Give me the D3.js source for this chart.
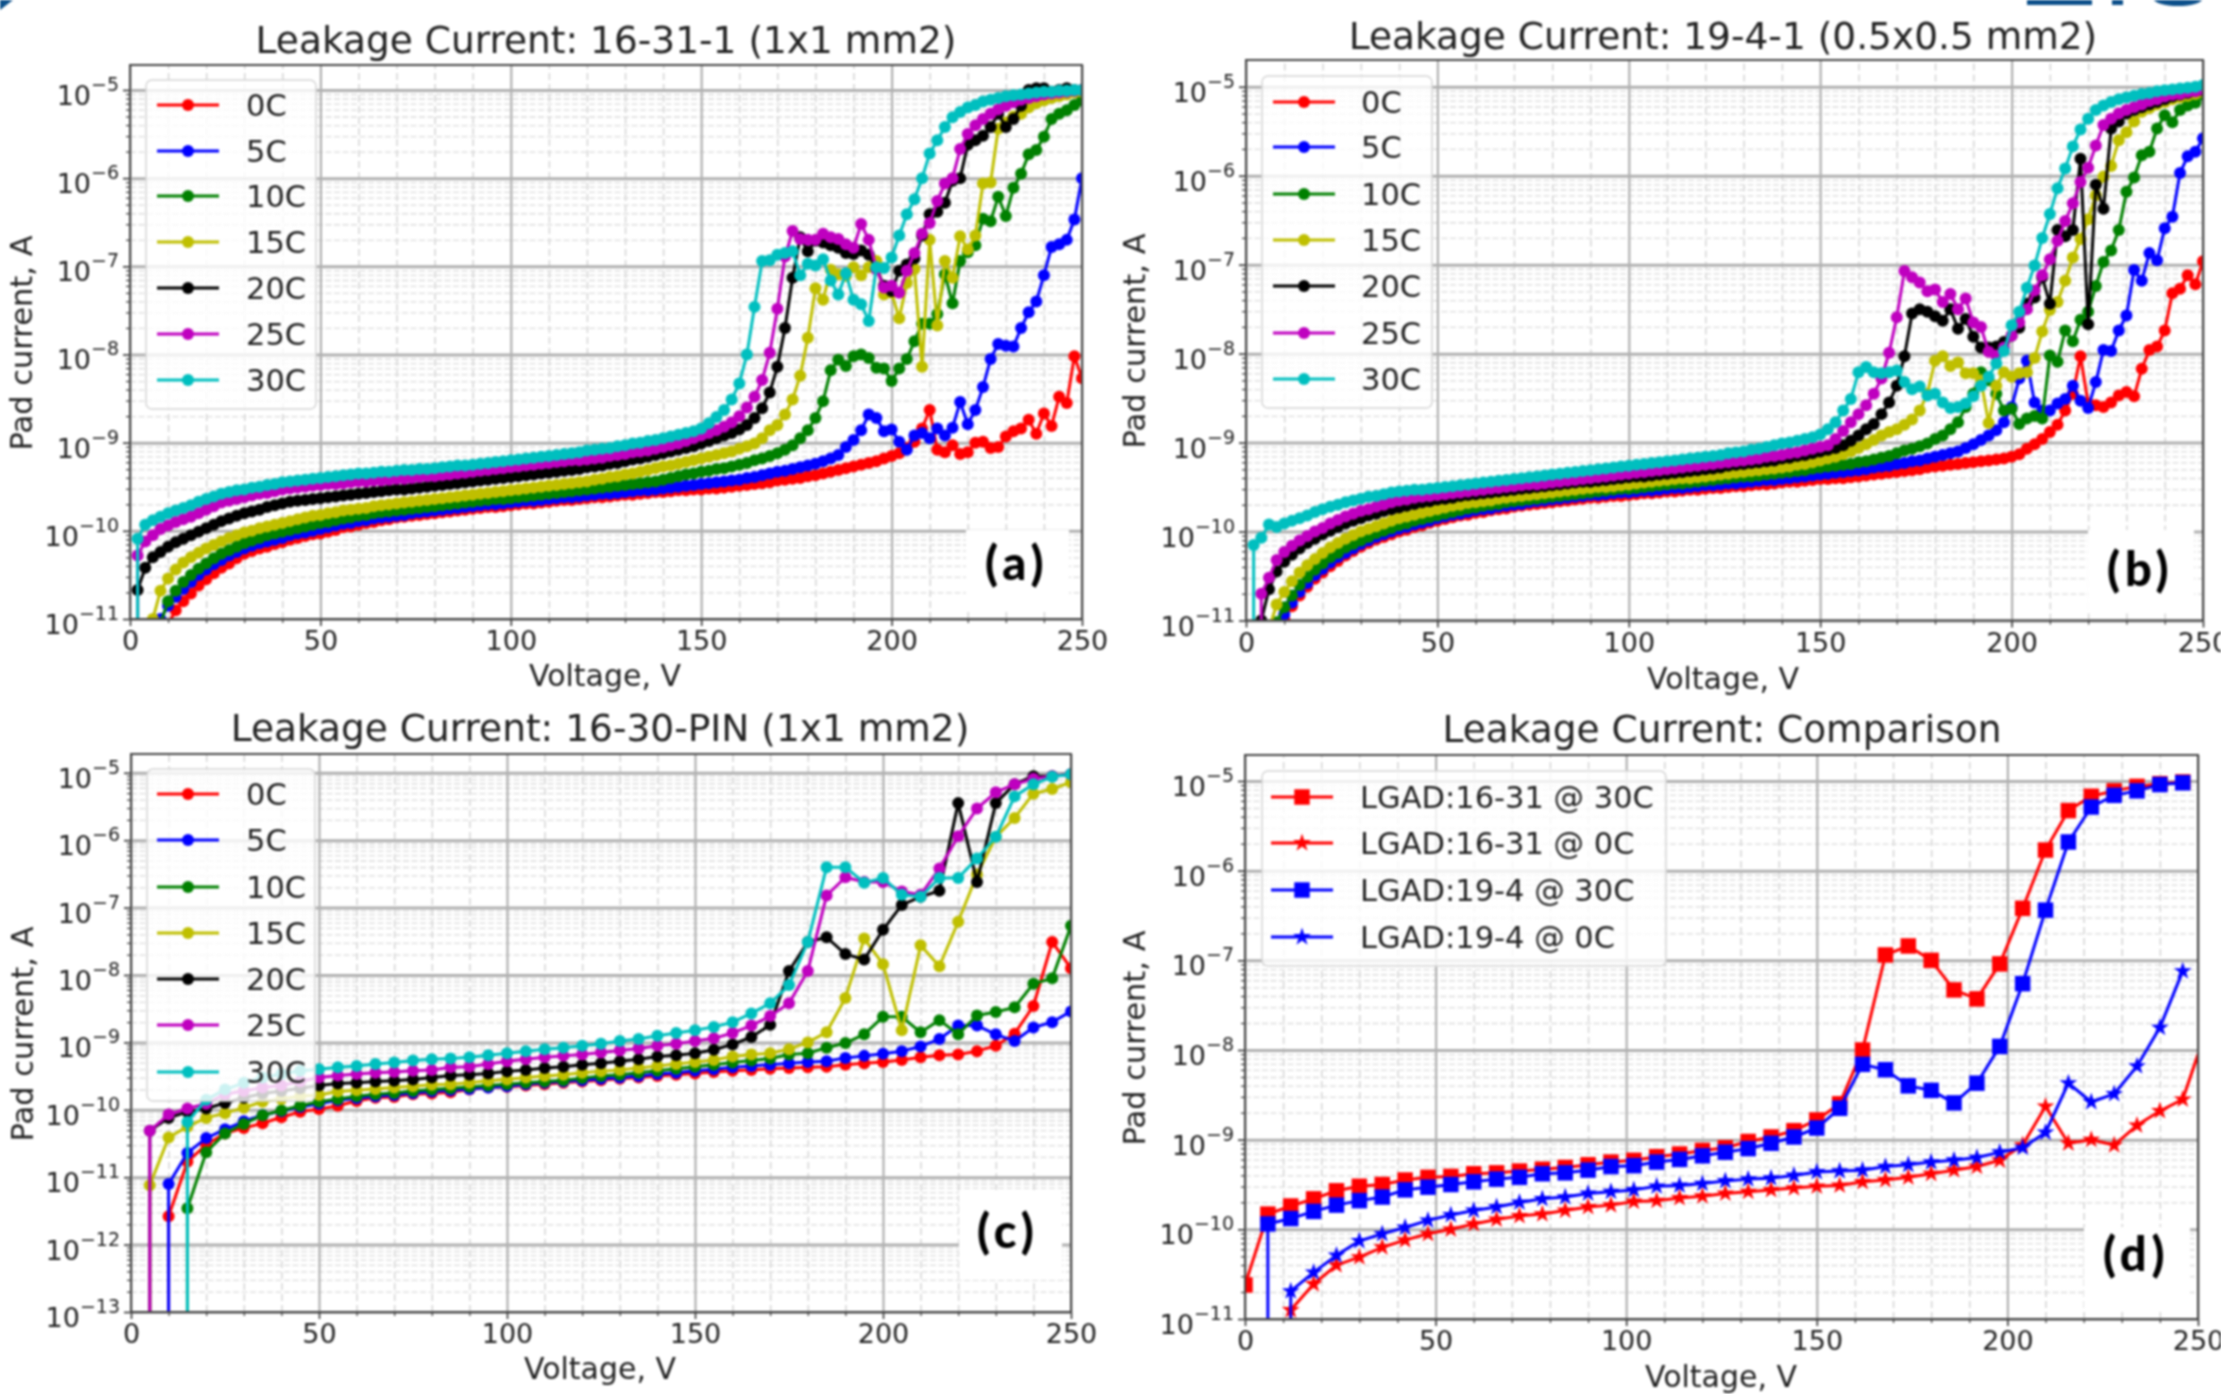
<!DOCTYPE html>
<html>
<head>
<meta charset="utf-8">
<script src="https://cdn.jsdelivr.net/npm/d3@7"></script>
<style>
  html, body { margin: 0; padding: 0; background: #fff; }
  svg { display: block; filter: blur(0.8px); }
  text { font-family: "DejaVu Sans", sans-serif; fill: #222; }
  .tag { font-family: Lato, sans-serif; font-weight: 900; fill: #000; letter-spacing: 5px; }
</style>
</head>
<body>
<div id="chart"></div>
<script>
// values are log10 of the pad current in A
// null = no point drawn (current not positive at that voltage)

// voltage steps of each panel
const voltsA = d3.range(2, 251, 2);
const voltsC = d3.range(5, 251, 5);
const voltsD = d3.range(0, 253, 6);

// panel (a) 16-31-1
const a0C = [null,null,null,-11.25,-11.06,-10.90,-10.80,-10.71,-10.62,-10.55,-10.48,-10.42,-10.37,-10.31,-10.26,-10.23,-10.20,-10.18,-10.15,-10.13,-10.10,-10.08,-10.06,-10.04,-10.03,
  -10.01,-9.99,-9.96,-9.95,-9.93,-9.91,-9.90,-9.88,-9.87,-9.85,-9.84,-9.83,-9.82,-9.81,-9.80,-9.79,-9.78,-9.77,-9.76,-9.75,-9.74,-9.73,-9.73,-9.72,-9.71,
  -9.70,-9.69,-9.69,-9.68,-9.67,-9.66,-9.65,-9.65,-9.64,-9.63,-9.62,-9.62,-9.61,-9.60,-9.59,-9.59,-9.58,-9.57,-9.56,-9.56,-9.55,-9.54,-9.54,-9.53,-9.53,
  -9.52,-9.52,-9.51,-9.50,-9.49,-9.48,-9.47,-9.46,-9.45,-9.43,-9.42,-9.41,-9.40,-9.38,-9.37,-9.35,-9.33,-9.31,-9.29,-9.27,-9.25,-9.23,-9.21,-9.18,-9.15,
  -9.12,-9.06,-8.99,-8.84,-8.63,-9.08,-9.11,-9.03,-9.13,-9.11,-9.00,-8.99,-9.06,-9.05,-8.93,-8.87,-8.84,-8.74,-8.90,-8.67,-8.81,-8.48,-8.55,-8.02,-8.27];
const a5C = [null,null,null,-11.00,-10.85,-10.75,-10.66,-10.58,-10.50,-10.44,-10.38,-10.33,-10.28,-10.24,-10.20,-10.17,-10.14,-10.12,-10.10,-10.08,-10.05,-10.03,-10.02,-10.00,-9.98,
  -9.96,-9.94,-9.92,-9.91,-9.89,-9.88,-9.86,-9.85,-9.84,-9.83,-9.82,-9.80,-9.79,-9.78,-9.77,-9.76,-9.75,-9.74,-9.73,-9.72,-9.71,-9.70,-9.70,-9.69,-9.68,
  -9.67,-9.66,-9.66,-9.65,-9.64,-9.63,-9.62,-9.62,-9.61,-9.60,-9.59,-9.58,-9.58,-9.57,-9.56,-9.55,-9.54,-9.54,-9.53,-9.52,-9.51,-9.50,-9.49,-9.48,-9.47,
  -9.46,-9.45,-9.44,-9.43,-9.42,-9.40,-9.39,-9.37,-9.35,-9.33,-9.32,-9.30,-9.28,-9.26,-9.24,-9.21,-9.18,-9.14,-9.05,-8.97,-8.86,-8.68,-8.72,-8.87,-8.85,
  -8.99,-9.08,-8.92,-8.89,-8.95,-8.84,-8.92,-8.83,-8.54,-8.79,-8.63,-8.37,-8.05,-7.88,-7.90,-7.91,-7.70,-7.52,-7.40,-7.10,-6.78,-6.75,-6.70,-6.47,-6.00];
const a10C = [null,null,null,-11.05,-10.80,-10.68,-10.58,-10.50,-10.43,-10.37,-10.31,-10.26,-10.22,-10.18,-10.14,-10.11,-10.08,-10.05,-10.03,-10.01,-9.99,-9.97,-9.95,-9.93,-9.91,
  -9.90,-9.88,-9.86,-9.85,-9.83,-9.82,-9.80,-9.79,-9.78,-9.77,-9.76,-9.75,-9.74,-9.73,-9.72,-9.71,-9.70,-9.69,-9.68,-9.67,-9.66,-9.65,-9.64,-9.64,-9.63,
  -9.62,-9.61,-9.60,-9.59,-9.58,-9.57,-9.56,-9.55,-9.54,-9.53,-9.52,-9.51,-9.50,-9.49,-9.48,-9.47,-9.46,-9.45,-9.44,-9.42,-9.40,-9.38,-9.36,-9.35,-9.33,
  -9.32,-9.30,-9.29,-9.27,-9.25,-9.23,-9.20,-9.18,-9.15,-9.12,-9.08,-9.03,-8.95,-8.86,-8.72,-8.53,-8.18,-8.06,-8.13,-8.02,-8.00,-8.04,-8.15,-8.16,-8.30,
  -8.16,-8.05,-7.85,-7.65,-7.65,-7.54,-7.09,-7.42,-6.94,-6.84,-6.76,-6.46,-6.49,-6.21,-6.43,-6.11,-5.95,-5.73,-5.68,-5.53,-5.33,-5.27,-5.23,-5.17,-5.12];
const a15C = [null,null,-11.00,-10.68,-10.54,-10.44,-10.36,-10.30,-10.25,-10.20,-10.16,-10.12,-10.08,-10.05,-10.02,-10.00,-9.97,-9.95,-9.93,-9.91,-9.89,-9.87,-9.85,-9.83,-9.82,
  -9.80,-9.79,-9.77,-9.76,-9.75,-9.74,-9.72,-9.71,-9.70,-9.69,-9.68,-9.67,-9.66,-9.65,-9.64,-9.63,-9.62,-9.61,-9.60,-9.59,-9.58,-9.57,-9.56,-9.55,-9.54,
  -9.53,-9.52,-9.51,-9.50,-9.49,-9.48,-9.47,-9.46,-9.45,-9.44,-9.42,-9.41,-9.39,-9.38,-9.36,-9.35,-9.33,-9.31,-9.29,-9.27,-9.26,-9.24,-9.22,-9.20,-9.18,
  -9.16,-9.14,-9.12,-9.10,-9.07,-9.04,-9.01,-8.95,-8.86,-8.80,-8.68,-8.51,-8.24,-7.81,-7.25,-7.38,-7.04,-7.09,-7.11,-7.01,-7.10,-7.01,-6.94,-7.32,-7.30,
  -7.59,-7.19,-7.03,-8.14,-6.70,-7.67,-6.94,-7.13,-6.66,-6.81,-6.65,-6.06,-6.05,-5.44,-5.37,-5.30,-5.27,-5.20,-5.15,-5.12,-5.09,-5.07,-5.05,-5.03,-5.02];
const a20C = [-10.67,-10.42,-10.30,-10.24,-10.18,-10.13,-10.09,-10.05,-10.01,-9.97,-9.93,-9.89,-9.86,-9.83,-9.80,-9.78,-9.76,-9.73,-9.71,-9.69,-9.67,-9.66,-9.65,-9.64,-9.63,
  -9.62,-9.61,-9.60,-9.59,-9.58,-9.57,-9.56,-9.55,-9.54,-9.53,-9.53,-9.52,-9.51,-9.50,-9.49,-9.48,-9.47,-9.46,-9.45,-9.44,-9.43,-9.42,-9.41,-9.40,-9.39,
  -9.38,-9.37,-9.36,-9.35,-9.34,-9.33,-9.32,-9.31,-9.30,-9.28,-9.27,-9.26,-9.24,-9.23,-9.21,-9.19,-9.18,-9.16,-9.14,-9.12,-9.10,-9.08,-9.06,-9.04,-9.01,
  -8.98,-8.95,-8.92,-8.89,-8.85,-8.80,-8.72,-8.61,-8.43,-8.14,-7.70,-7.13,-6.67,-6.83,-6.71,-6.73,-6.76,-6.79,-6.85,-6.86,-6.82,-6.87,-7.03,-7.22,-7.28,
  -7.05,-6.98,-6.91,-6.65,-6.41,-6.38,-6.28,-6.03,-6.00,-5.62,-5.57,-5.52,-5.42,-5.27,-5.42,-5.33,-5.18,-5.00,-4.98,-4.98,-5.02,-5.00,-4.98,-5.00,-5.00];
const a25C = [-10.28,-10.12,-10.05,-9.98,-9.94,-9.90,-9.87,-9.84,-9.80,-9.76,-9.72,-9.68,-9.66,-9.64,-9.62,-9.60,-9.58,-9.57,-9.55,-9.53,-9.52,-9.51,-9.50,-9.49,-9.48,
  -9.47,-9.47,-9.46,-9.45,-9.44,-9.44,-9.43,-9.43,-9.42,-9.41,-9.41,-9.40,-9.39,-9.38,-9.38,-9.37,-9.36,-9.35,-9.34,-9.33,-9.32,-9.31,-9.30,-9.29,-9.28,
  -9.27,-9.26,-9.25,-9.24,-9.23,-9.22,-9.21,-9.20,-9.20,-9.19,-9.18,-9.17,-9.15,-9.14,-9.13,-9.11,-9.10,-9.09,-9.07,-9.05,-9.03,-9.01,-8.98,-8.95,-8.92,
  -8.89,-8.86,-8.82,-8.77,-8.70,-8.60,-8.48,-8.29,-7.98,-7.48,-6.89,-6.60,-6.69,-6.70,-6.70,-6.63,-6.67,-6.69,-6.75,-6.79,-6.52,-6.70,-7.03,-7.24,-7.22,
  -7.30,-7.05,-6.85,-6.63,-6.51,-6.26,-6.06,-6.00,-5.67,-5.50,-5.40,-5.33,-5.27,-5.22,-5.18,-5.14,-5.11,-5.09,-5.07,-5.05,-5.04,-5.03,-5.02,-5.01,-5.00];
const a30C = [-10.09,-9.93,-9.88,-9.84,-9.80,-9.77,-9.74,-9.71,-9.67,-9.64,-9.61,-9.58,-9.56,-9.54,-9.53,-9.51,-9.50,-9.48,-9.47,-9.45,-9.44,-9.43,-9.42,-9.41,-9.40,
  -9.39,-9.38,-9.37,-9.36,-9.35,-9.35,-9.34,-9.33,-9.33,-9.32,-9.31,-9.31,-9.30,-9.30,-9.29,-9.28,-9.27,-9.26,-9.26,-9.25,-9.24,-9.23,-9.22,-9.21,-9.20,
  -9.19,-9.18,-9.17,-9.16,-9.15,-9.14,-9.13,-9.12,-9.11,-9.09,-9.08,-9.07,-9.06,-9.04,-9.03,-9.01,-9.00,-8.98,-8.97,-8.95,-8.93,-8.91,-8.89,-8.87,-8.84,
  -8.78,-8.71,-8.63,-8.51,-8.33,-8.00,-7.46,-6.94,-6.93,-6.87,-6.85,-6.83,-7.10,-6.97,-6.99,-6.92,-7.16,-7.32,-7.08,-7.38,-7.43,-7.62,-7.01,-7.02,-6.90,
  -6.65,-6.41,-6.24,-6.00,-5.72,-5.57,-5.42,-5.31,-5.25,-5.20,-5.17,-5.13,-5.11,-5.09,-5.07,-5.06,-5.05,-5.04,-5.03,-5.02,-5.02,-5.01,-5.01,-5.00,-5.00];

// panel (b) 19-4-1
const b0C = [null,null,null,-11.20,-10.98,-10.84,-10.72,-10.62,-10.53,-10.46,-10.39,-10.33,-10.27,-10.22,-10.17,-10.13,-10.09,-10.06,-10.03,-10.00,-9.98,-9.95,-9.93,-9.90,-9.88,
  -9.86,-9.84,-9.82,-9.81,-9.79,-9.78,-9.76,-9.75,-9.74,-9.72,-9.71,-9.70,-9.69,-9.68,-9.67,-9.66,-9.65,-9.64,-9.63,-9.62,-9.62,-9.61,-9.60,-9.60,-9.59,
  -9.58,-9.57,-9.57,-9.56,-9.55,-9.55,-9.54,-9.53,-9.53,-9.52,-9.51,-9.51,-9.50,-9.49,-9.49,-9.48,-9.47,-9.47,-9.46,-9.45,-9.44,-9.44,-9.43,-9.42,-9.41,
  -9.41,-9.40,-9.40,-9.39,-9.38,-9.37,-9.36,-9.35,-9.34,-9.33,-9.32,-9.31,-9.30,-9.28,-9.27,-9.26,-9.25,-9.24,-9.23,-9.22,-9.21,-9.20,-9.19,-9.18,-9.16,
  -9.13,-9.07,-9.02,-8.96,-8.88,-8.80,-8.64,-8.45,-8.03,-8.56,-8.58,-8.60,-8.55,-8.47,-8.43,-8.48,-8.17,-7.96,-7.92,-7.74,-7.32,-7.27,-7.12,-7.22,-6.96];
const b5C = [null,null,null,-11.15,-10.93,-10.80,-10.68,-10.58,-10.49,-10.42,-10.35,-10.29,-10.24,-10.19,-10.14,-10.10,-10.06,-10.03,-10.00,-9.97,-9.95,-9.92,-9.90,-9.88,-9.85,
  -9.83,-9.81,-9.80,-9.78,-9.76,-9.75,-9.74,-9.72,-9.71,-9.70,-9.69,-9.67,-9.66,-9.65,-9.64,-9.63,-9.62,-9.61,-9.60,-9.59,-9.59,-9.58,-9.57,-9.56,-9.56,
  -9.55,-9.54,-9.54,-9.53,-9.52,-9.51,-9.51,-9.50,-9.49,-9.48,-9.48,-9.47,-9.46,-9.46,-9.45,-9.44,-9.43,-9.42,-9.42,-9.41,-9.40,-9.39,-9.38,-9.37,-9.36,
  -9.35,-9.34,-9.33,-9.32,-9.31,-9.30,-9.28,-9.27,-9.26,-9.24,-9.23,-9.21,-9.20,-9.18,-9.16,-9.14,-9.12,-9.10,-9.06,-9.02,-8.97,-8.92,-8.86,-8.77,-8.60,
  -8.28,-8.08,-8.55,-8.64,-8.64,-8.56,-8.51,-8.36,-8.53,-8.61,-8.32,-7.96,-7.97,-7.74,-7.57,-7.06,-7.18,-6.87,-6.95,-6.59,-6.46,-5.97,-5.78,-5.73,-5.58];
const b10C = [null,null,null,-11.02,-10.85,-10.72,-10.60,-10.51,-10.43,-10.36,-10.29,-10.24,-10.18,-10.14,-10.10,-10.06,-10.02,-9.99,-9.96,-9.93,-9.91,-9.88,-9.86,-9.84,-9.82,
  -9.80,-9.78,-9.76,-9.74,-9.73,-9.71,-9.70,-9.69,-9.67,-9.66,-9.65,-9.64,-9.63,-9.62,-9.61,-9.60,-9.59,-9.58,-9.57,-9.56,-9.55,-9.54,-9.53,-9.52,-9.52,
  -9.51,-9.50,-9.49,-9.48,-9.47,-9.46,-9.46,-9.45,-9.44,-9.43,-9.42,-9.41,-9.40,-9.39,-9.38,-9.38,-9.37,-9.36,-9.35,-9.34,-9.33,-9.32,-9.31,-9.29,-9.28,
  -9.27,-9.26,-9.25,-9.24,-9.22,-9.21,-9.19,-9.17,-9.15,-9.12,-9.09,-9.07,-9.04,-9.01,-8.96,-8.92,-8.85,-8.77,-8.60,-8.45,-8.21,-8.30,-8.45,-8.64,-8.62,
  -8.79,-8.73,-8.70,-8.73,-8.02,-8.09,-7.74,-7.86,-7.62,-7.53,-7.24,-6.97,-6.84,-6.61,-6.18,-6.02,-5.77,-5.73,-5.47,-5.32,-5.40,-5.26,-5.21,-5.18,-5.09];
const b15C = [null,null,-11.10,-10.82,-10.68,-10.56,-10.46,-10.38,-10.31,-10.24,-10.18,-10.13,-10.08,-10.04,-10.00,-9.97,-9.94,-9.91,-9.88,-9.85,-9.83,-9.81,-9.79,-9.77,-9.75,
  -9.73,-9.71,-9.70,-9.68,-9.67,-9.66,-9.65,-9.63,-9.62,-9.61,-9.60,-9.59,-9.58,-9.57,-9.56,-9.55,-9.54,-9.53,-9.52,-9.51,-9.50,-9.50,-9.49,-9.48,-9.47,
  -9.46,-9.45,-9.44,-9.43,-9.42,-9.41,-9.40,-9.40,-9.39,-9.38,-9.37,-9.36,-9.35,-9.34,-9.33,-9.32,-9.31,-9.30,-9.29,-9.28,-9.27,-9.25,-9.24,-9.22,-9.20,
  -9.18,-9.16,-9.13,-9.10,-9.06,-9.02,-8.97,-8.92,-8.88,-8.85,-8.80,-8.74,-8.64,-8.45,-8.08,-8.03,-8.14,-8.10,-8.22,-8.22,-8.30,-8.78,-8.36,-8.21,-8.26,
  -8.22,-8.21,-8.05,-7.75,-7.51,-7.42,-7.18,-6.92,-6.71,-6.49,-6.22,-6.01,-5.89,-5.60,-5.51,-5.39,-5.28,-5.24,-5.20,-5.17,-5.14,-5.12,-5.10,-5.08,-5.06];
const b20C = [null,-11.00,-10.65,-10.45,-10.34,-10.26,-10.19,-10.13,-10.08,-10.03,-9.99,-9.95,-9.91,-9.88,-9.85,-9.82,-9.80,-9.77,-9.75,-9.73,-9.71,-9.69,-9.67,-9.66,-9.64,
  -9.63,-9.62,-9.60,-9.59,-9.58,-9.57,-9.56,-9.55,-9.54,-9.53,-9.52,-9.51,-9.50,-9.49,-9.48,-9.47,-9.46,-9.45,-9.44,-9.44,-9.43,-9.42,-9.41,-9.40,-9.39,
  -9.38,-9.38,-9.37,-9.36,-9.35,-9.34,-9.33,-9.32,-9.31,-9.30,-9.29,-9.28,-9.26,-9.25,-9.24,-9.23,-9.22,-9.21,-9.20,-9.18,-9.17,-9.15,-9.14,-9.12,-9.10,
  -9.08,-9.06,-9.03,-8.98,-8.92,-8.85,-8.79,-8.68,-8.55,-8.36,-8.03,-7.55,-7.50,-7.53,-7.58,-7.63,-7.50,-7.72,-7.61,-7.81,-7.93,-7.93,-7.92,-7.87,-7.80,
  -7.71,-7.44,-7.37,-7.14,-7.44,-6.61,-6.68,-6.61,-5.81,-7.67,-6.10,-6.37,-5.47,-5.39,-5.30,-5.26,-5.23,-5.20,-5.17,-5.14,-5.11,-5.09,-5.07,-5.05,-5.04];
const b25C = [null,-10.70,-10.52,-10.32,-10.23,-10.16,-10.10,-10.05,-10.00,-9.96,-9.91,-9.87,-9.83,-9.80,-9.77,-9.75,-9.72,-9.70,-9.67,-9.65,-9.64,-9.62,-9.61,-9.60,-9.59,
  -9.58,-9.57,-9.56,-9.55,-9.54,-9.53,-9.52,-9.51,-9.50,-9.49,-9.48,-9.47,-9.47,-9.46,-9.45,-9.44,-9.43,-9.42,-9.41,-9.40,-9.39,-9.38,-9.37,-9.36,-9.35,
  -9.34,-9.33,-9.32,-9.31,-9.30,-9.29,-9.28,-9.27,-9.26,-9.25,-9.24,-9.23,-9.22,-9.21,-9.20,-9.19,-9.18,-9.16,-9.15,-9.14,-9.12,-9.11,-9.09,-9.07,-9.05,
  -9.03,-8.96,-8.87,-8.77,-8.68,-8.58,-8.45,-8.28,-7.99,-7.59,-7.07,-7.14,-7.20,-7.30,-7.28,-7.42,-7.33,-7.50,-7.38,-7.65,-7.70,-7.98,-8.02,-7.93,-7.80,
  -7.65,-7.50,-7.29,-7.12,-6.94,-6.73,-6.51,-6.31,-6.07,-5.91,-5.66,-5.43,-5.36,-5.30,-5.26,-5.23,-5.20,-5.16,-5.14,-5.11,-5.09,-5.08,-5.06,-5.05,-5.03];
const b30C = [-10.15,-10.07,-9.92,-9.95,-9.91,-9.88,-9.85,-9.82,-9.78,-9.75,-9.72,-9.70,-9.67,-9.65,-9.63,-9.61,-9.60,-9.58,-9.56,-9.55,-9.54,-9.53,-9.53,-9.52,-9.51,
  -9.50,-9.49,-9.48,-9.47,-9.46,-9.45,-9.44,-9.43,-9.42,-9.41,-9.40,-9.39,-9.38,-9.37,-9.36,-9.35,-9.34,-9.33,-9.32,-9.31,-9.30,-9.29,-9.28,-9.27,-9.26,
  -9.25,-9.24,-9.23,-9.22,-9.21,-9.20,-9.19,-9.18,-9.17,-9.16,-9.15,-9.14,-9.12,-9.11,-9.10,-9.08,-9.07,-9.05,-9.03,-9.01,-9.00,-8.98,-8.96,-8.94,-8.91,
  -8.85,-8.77,-8.64,-8.51,-8.21,-8.15,-8.21,-8.22,-8.21,-8.19,-8.32,-8.40,-8.37,-8.47,-8.45,-8.55,-8.61,-8.60,-8.56,-8.48,-8.36,-8.26,-8.11,-7.97,-7.68,
  -7.53,-7.26,-7.01,-6.70,-6.43,-6.14,-5.92,-5.67,-5.48,-5.36,-5.26,-5.21,-5.17,-5.14,-5.12,-5.10,-5.08,-5.07,-5.05,-5.04,-5.03,-5.02,-5.01,-5.00,-4.98];

// panel (c) 16-30-PIN
const c0C = [null,-11.58,-10.77,-10.52,-10.35,-10.27,-10.20,-10.11,-10.03,-9.99,-9.94,-9.87,-9.82,-9.81,-9.77,-9.76,-9.74,-9.70,-9.67,-9.66,-9.64,-9.62,-9.60,-9.58,-9.56,
  -9.54,-9.52,-9.50,-9.48,-9.46,-9.44,-9.42,-9.41,-9.39,-9.38,-9.37,-9.36,-9.33,-9.31,-9.29,-9.26,-9.22,-9.19,-9.18,-9.13,-9.05,-8.87,-8.46,-7.51,-7.90];
const c5C = [null,-11.10,-10.64,-10.42,-10.29,-10.17,-10.08,-10.02,-9.96,-9.91,-9.86,-9.83,-9.80,-9.78,-9.75,-9.73,-9.71,-9.69,-9.67,-9.65,-9.62,-9.60,-9.58,-9.56,-9.54,
  -9.52,-9.50,-9.47,-9.45,-9.42,-9.40,-9.37,-9.35,-9.33,-9.31,-9.29,-9.28,-9.23,-9.20,-9.17,-9.13,-9.06,-8.95,-8.75,-8.75,-8.88,-8.98,-8.78,-8.70,-8.54];
const c10C = [null,null,-11.46,-10.63,-10.35,-10.21,-10.08,-10.01,-9.94,-9.88,-9.84,-9.80,-9.77,-9.75,-9.72,-9.70,-9.68,-9.66,-9.64,-9.62,-9.60,-9.58,-9.56,-9.53,-9.50,
  -9.48,-9.45,-9.42,-9.39,-9.36,-9.33,-9.30,-9.27,-9.24,-9.18,-9.16,-9.08,-9.01,-8.88,-8.62,-8.62,-8.85,-8.67,-8.88,-8.60,-8.55,-8.48,-8.13,-8.05,-7.27];
const c15C = [-11.12,-10.41,-10.25,-10.12,-10.05,-9.97,-9.88,-9.84,-9.80,-9.78,-9.73,-9.71,-9.69,-9.67,-9.65,-9.63,-9.62,-9.60,-9.57,-9.55,-9.52,-9.50,-9.48,-9.45,-9.43,
  -9.41,-9.38,-9.35,-9.32,-9.29,-9.26,-9.21,-9.18,-9.16,-9.10,-9.00,-8.85,-8.34,-7.46,-7.84,-8.82,-7.56,-7.87,-7.21,-6.51,-5.95,-5.67,-5.31,-5.24,-5.14];
const c20C = [-10.31,-10.12,-10.03,-9.98,-9.90,-9.82,-9.76,-9.72,-9.68,-9.64,-9.61,-9.60,-9.58,-9.57,-9.55,-9.52,-9.49,-9.48,-9.46,-9.43,-9.41,-9.38,-9.36,-9.33,-9.31,
  -9.28,-9.25,-9.21,-9.19,-9.16,-9.11,-9.03,-8.92,-8.74,-7.94,-7.51,-7.44,-7.69,-7.77,-7.33,-6.96,-6.84,-6.75,-5.45,-6.62,-5.45,-5.17,-5.05,-5.05,-5.02];
const c25C = [-10.31,-10.07,-9.98,-9.91,-9.77,-9.72,-9.67,-9.64,-9.58,-9.52,-9.49,-9.47,-9.45,-9.44,-9.42,-9.41,-9.37,-9.36,-9.32,-9.28,-9.25,-9.22,-9.20,-9.18,-9.15,
  -9.12,-9.09,-9.05,-9.02,-8.98,-8.94,-8.86,-8.75,-8.61,-8.42,-7.94,-6.82,-6.55,-6.62,-6.62,-6.76,-6.81,-6.42,-5.94,-5.53,-5.29,-5.17,-5.09,-5.05,-5.02];
const c30C = [null,null,-10.18,-9.85,-9.70,-9.60,-9.52,-9.47,-9.42,-9.40,-9.37,-9.35,-9.32,-9.30,-9.27,-9.25,-9.24,-9.22,-9.19,-9.16,-9.13,-9.10,-9.08,-9.05,-9.02,
  -8.98,-8.95,-8.90,-8.86,-8.82,-8.77,-8.70,-8.57,-8.42,-8.15,-7.51,-6.40,-6.40,-6.63,-6.56,-6.81,-6.84,-6.56,-6.56,-6.27,-5.95,-5.35,-5.17,-5.06,-5.02];

// panel (d) comparison
const d1631at30C = [-10.62,-9.83,-9.74,-9.66,-9.57,-9.52,-9.50,-9.45,-9.42,-9.41,-9.38,-9.37,-9.35,-9.33,-9.31,-9.28,-9.25,-9.23,-9.19,-9.16,-9.12,-9.09,-9.02,-8.97,-8.90,-8.78,-8.60,-8.00,-6.94,-6.84,-7.00,-7.33,-7.43,-7.04,-6.42,-5.77,-5.33,-5.17,-5.11,-5.06,-5.03,-5.01];
const d1631at0C = [null,null,-10.90,-10.61,-10.40,-10.31,-10.20,-10.12,-10.05,-10.00,-9.94,-9.89,-9.85,-9.83,-9.79,-9.75,-9.73,-9.69,-9.68,-9.65,-9.63,-9.60,-9.58,-9.56,-9.54,-9.52,-9.51,-9.47,-9.45,-9.42,-9.38,-9.34,-9.30,-9.23,-9.06,-8.63,-9.04,-9.00,-9.06,-8.84,-8.68,-8.55,-7.80];
const d194at30C = [null,-9.94,-9.88,-9.80,-9.73,-9.68,-9.64,-9.56,-9.53,-9.50,-9.47,-9.44,-9.42,-9.38,-9.37,-9.34,-9.30,-9.29,-9.25,-9.22,-9.18,-9.14,-9.10,-9.04,-8.97,-8.87,-8.65,-8.16,-8.22,-8.40,-8.45,-8.59,-8.37,-7.96,-7.26,-6.44,-5.68,-5.29,-5.16,-5.11,-5.04,-5.02];
const d194at0C = [null,null,-10.69,-10.48,-10.29,-10.13,-10.05,-9.98,-9.90,-9.84,-9.79,-9.75,-9.70,-9.66,-9.64,-9.60,-9.58,-9.56,-9.52,-9.51,-9.49,-9.46,-9.44,-9.43,-9.40,-9.36,-9.35,-9.34,-9.30,-9.28,-9.25,-9.23,-9.20,-9.14,-9.09,-8.92,-8.37,-8.58,-8.49,-8.18,-7.75,-7.12];

const tempLabels = ['0C', '5C', '10C', '15C', '20C', '25C', '30C'];
const tempColors = ['#ff0000', '#0000ff', '#008000', '#bfbf00', '#000000', '#bf00bf', '#00bfbf'];
const compareLabels = ['LGAD:16-31 @ 30C', 'LGAD:16-31 @ 0C', 'LGAD:19-4 @ 30C', 'LGAD:19-4 @ 0C'];
const compareColors = ['#ff0000', '#ff0000', '#0000ff', '#0000ff'];
const compareMarks = ['square', 'star', 'square', 'star'];
const xMajor = [0, 50, 100, 150, 200, 250];
const xMinor = d3.range(10, 250, 10).filter(v => v % 50 !== 0);

const W = 2221, H = 1394;
const floorAmps = 1e-14;

const svg = d3.select('#chart').append('svg')
  .attr('width', W).attr('height', H);

// bits of the slide logo cut off by the crop
const logoColor = '#0b4f8a';
svg.append('path').attr('d', 'M0,0 L13,0 L0,10 Z').attr('fill', logoColor);
svg.append('rect').attr('x', 2027).attr('y', 0).attr('width', 65).attr('height', 5).attr('fill', logoColor);
svg.append('rect').attr('x', 2112).attr('y', 0).attr('width', 11).attr('height', 5).attr('fill', logoColor);
svg.append('ellipse').attr('cx', 2178).attr('cy', -2).attr('rx', 25).attr('ry', 8).attr('fill', logoColor);

const markerPath = {
  square: d3.symbol().type(d3.symbolSquare).size(240)(),
  star: d3.symbol().type(d3.symbolStar).size(100)()
};

function drawMarker(g, x, y, color, kind) {
  if (kind === 'circle') {
    g.append('circle').attr('cx', x).attr('cy', y).attr('r', 6).attr('fill', color);
  } else {
    g.append('path').attr('d', markerPath[kind]).attr('transform', `translate(${x},${y})`).attr('fill', color);
  }
}

function drawPanel(cfg, idx) {
  const xScale = d3.scaleLinear().domain([0, 250]).range([cfg.left, cfg.right]);
  const yScale = d3.scaleLog().domain([cfg.yMin, cfg.yMax]).range([cfg.bottom, cfg.top]);
  const plotW = cfg.right - cfg.left, plotH = cfg.bottom - cfg.top;
  const g = svg.append('g');

  const loExp = Math.round(Math.log10(cfg.yMin));
  const decades = d3.range(loExp, -4).map(e => Math.pow(10, e));
  const minorY = [];
  decades.forEach(d => [2,3,4,5,6,7,8,9].forEach(m => { if (d * m < cfg.yMax) minorY.push(d * m); }));

  // grid
  const gridMinorX = g.append('g').attr('transform', `translate(0,${cfg.bottom})`)
    .call(d3.axisBottom(xScale).tickValues(xMinor).tickSize(-plotH).tickFormat(''));
  gridMinorX.selectAll('line').attr('stroke', '#d4d4d4').attr('stroke-width', 1.5).attr('stroke-dasharray', '7,4');
  const gridMinorY = g.append('g').attr('transform', `translate(${cfg.left},0)`)
    .call(d3.axisLeft(yScale).tickValues(minorY).tickSize(-plotW).tickFormat(''));
  gridMinorY.selectAll('line').attr('stroke', '#dcdcdc').attr('stroke-width', 1.3).attr('stroke-dasharray', '6,2.5');
  const gridMajorX = g.append('g').attr('transform', `translate(0,${cfg.bottom})`)
    .call(d3.axisBottom(xScale).tickValues(xMajor).tickSize(-plotH).tickFormat(''));
  gridMajorX.selectAll('line').attr('stroke', '#b0b0b0').attr('stroke-width', 2.2);
  const gridMajorY = g.append('g').attr('transform', `translate(${cfg.left},0)`)
    .call(d3.axisLeft(yScale).tickValues(decades).tickSize(-plotW).tickFormat(''));
  gridMajorY.selectAll('line').attr('stroke', '#b0b0b0').attr('stroke-width', 3);
  g.selectAll('.domain').remove();

  // white patch behind the panel letter
  g.append('rect').attr('x', cfg.tag.x0).attr('y', cfg.tag.y0)
    .attr('width', cfg.tag.x1 - cfg.tag.x0).attr('height', cfg.tag.y1 - cfg.tag.y0).attr('fill', '#fff');

  // data
  const clipId = 'clip' + idx;
  svg.append('clipPath').attr('id', clipId).append('rect')
    .attr('x', cfg.left).attr('y', cfg.top).attr('width', plotW).attr('height', plotH);
  const plot = g.append('g').attr('clip-path', `url(#${clipId})`);

  const line = d3.line().x(d => xScale(d[0])).y(d => yScale(d[1]));
  cfg.series.forEach(s => {
    const pts = [];
    s.values.forEach((v, i) => { if (v !== null) pts.push([cfg.volts[i], Math.pow(10, v)]); });
    // non-positive readings before the first point fall straight off the log axis
    const path = pts[0][0] > 0 ? [[pts[0][0], floorAmps]].concat(pts) : pts;
    plot.append('path').datum(path).attr('d', line)
      .attr('fill', 'none').attr('stroke', s.color).attr('stroke-width', 3).attr('stroke-linejoin', 'round');
    pts.forEach(p => drawMarker(plot, xScale(p[0]), yScale(p[1]), s.color, s.mark));
  });

  // ticks
  const axisB = g.append('g').attr('transform', `translate(0,${cfg.bottom})`)
    .call(d3.axisBottom(xScale).tickValues(xMajor).tickSize(7).tickPadding(5));
  axisB.selectAll('text').attr('font-size', 27).attr('font-family', '"DejaVu Sans", sans-serif').attr('fill', '#222');
  axisB.selectAll('line').attr('stroke', '#333').attr('stroke-width', 1.6);
  const axisBm = g.append('g').attr('transform', `translate(0,${cfg.bottom})`)
    .call(d3.axisBottom(xScale).tickValues(xMinor).tickSize(4).tickFormat(''));
  axisBm.selectAll('line').attr('stroke', '#333').attr('stroke-width', 1.2);
  const axisL = g.append('g').attr('transform', `translate(${cfg.left},0)`)
    .call(d3.axisLeft(yScale).tickValues(decades).tickSize(7).tickFormat(''));
  axisL.selectAll('line').attr('stroke', '#333').attr('stroke-width', 1.6);
  const axisLm = g.append('g').attr('transform', `translate(${cfg.left},0)`)
    .call(d3.axisLeft(yScale).tickValues(minorY).tickSize(4).tickFormat(''));
  axisLm.selectAll('line').attr('stroke', '#333').attr('stroke-width', 1.2);
  g.selectAll('.domain').remove();

  decades.forEach(d => {
    const t = g.append('text').attr('x', cfg.left - 11).attr('y', yScale(d) + 15).attr('text-anchor', 'end').attr('font-size', 27);
    t.append('tspan').text('10');
    t.append('tspan').attr('font-size', 19).attr('dy', -14).text('\u2212' + Math.abs(Math.round(Math.log10(d))));
  });

  // frame
  g.append('rect').attr('x', cfg.left).attr('y', cfg.top).attr('width', plotW).attr('height', plotH)
    .attr('fill', 'none').attr('stroke', '#444').attr('stroke-width', 2);

  // legend
  const leg = cfg.legend;
  const legendG = g.append('g');
  legendG.append('rect').attr('x', leg.x0).attr('y', leg.y0).attr('width', leg.x1 - leg.x0).attr('height', leg.y1 - leg.y0)
    .attr('rx', 6).attr('fill', '#fff').attr('fill-opacity', 0.8).attr('stroke', '#d5d5d5').attr('stroke-width', 1.5);
  cfg.series.forEach((s, i) => {
    const y = leg.rows[i];
    legendG.append('line').attr('x1', leg.h0).attr('x2', leg.h0 + 62).attr('y1', y).attr('y2', y)
      .attr('stroke', s.color).attr('stroke-width', 3);
    drawMarker(legendG, leg.h0 + 31, y, s.color, s.mark);
    legendG.append('text').attr('x', leg.tx).attr('y', y + 11).attr('font-size', 30.5).text(s.label);
  });

  // labels
  g.append('text').attr('x', cfg.titleX).attr('y', cfg.titleY).attr('text-anchor', 'middle').attr('font-size', 37.5).text(cfg.title);
  g.append('text').attr('x', cfg.xlabX).attr('y', cfg.xlabY).attr('text-anchor', 'middle').attr('font-size', 30).text('Voltage, V');
  g.append('text').attr('transform', `translate(${cfg.ylabX},${cfg.ylabY}) rotate(-90)`).attr('text-anchor', 'middle')
    .attr('font-size', 30.5).text('Pad current, A');
  g.append('text').attr('class', 'tag').attr('x', cfg.tag.tx).attr('y', cfg.tag.ty).attr('font-size', 47).text(cfg.tag.text);
}

function tempSeries(vals) {
  return vals.map((v, i) => ({ label: tempLabels[i], color: tempColors[i], mark: 'circle', values: v }));
}

const panels = [
  { title: 'Leakage Current: 16-31-1 (1x1 mm2)', left: 130, right: 1082, top: 65, bottom: 619, yMin: 1e-11, yMax: 1.92e-5,
    volts: voltsA, series: tempSeries([a0C, a5C, a10C, a15C, a20C, a25C, a30C]),
    titleX: 606, titleY: 53, xlabX: 605, xlabY: 686, ylabX: 32, ylabY: 343,
    legend: { x0: 146, x1: 316, y0: 80, y1: 409, h0: 157, tx: 246, rows: [105, 151, 196, 242, 288, 334, 380] },
    tag: { x0: 966, x1: 1069, y0: 530, y1: 609, tx: 985, ty: 580, text: '(a)' } },
  { title: 'Leakage Current: 19-4-1 (0.5x0.5 mm2)', left: 1246, right: 2203, top: 60, bottom: 620.5, yMin: 1e-11, yMax: 2e-5,
    volts: voltsA, series: tempSeries([b0C, b5C, b10C, b15C, b20C, b25C, b30C]),
    titleX: 1723, titleY: 49, xlabX: 1723, xlabY: 689, ylabX: 1145, ylabY: 341,
    legend: { x0: 1262, x1: 1432, y0: 76, y1: 408, h0: 1273, tx: 1361, rows: [102, 147, 194, 240, 286, 333, 379] },
    tag: { x0: 2088, x1: 2194, y0: 530, y1: 612, tx: 2107, ty: 586, text: '(b)' } },
  { title: 'Leakage Current: 16-30-PIN (1x1 mm2)', left: 131, right: 1071, top: 754, bottom: 1312, yMin: 1e-13, yMax: 1.9e-5,
    volts: voltsC, series: tempSeries([c0C, c5C, c10C, c15C, c20C, c25C, c30C]),
    titleX: 600, titleY: 741, xlabX: 600, xlabY: 1379, ylabX: 33, ylabY: 1034,
    legend: { x0: 147, x1: 315, y0: 769, y1: 1101, h0: 157, tx: 246, rows: [794, 840, 887, 933, 979, 1025, 1072] },
    tag: { x0: 959, x1: 1062, y0: 1190, y1: 1280, tx: 977, ty: 1248, text: '(c)' } },
  { title: 'Leakage Current: Comparison', left: 1245, right: 2198, top: 755, bottom: 1319, yMin: 1e-11, yMax: 1.95e-5,
    volts: voltsD,
    series: [d1631at30C, d1631at0C, d194at30C, d194at0C].map((v, i) => ({ label: compareLabels[i], color: compareColors[i], mark: compareMarks[i], values: v })),
    titleX: 1722, titleY: 742, xlabX: 1721, xlabY: 1387, ylabX: 1145, ylabY: 1038,
    legend: { x0: 1262, x1: 1666, y0: 771, y1: 966, h0: 1271, tx: 1360, rows: [797, 843, 890, 937] },
    tag: { x0: 2084, x1: 2190, y0: 1227, y1: 1308, tx: 2103, ty: 1271, text: '(d)' } }
];

panels.forEach(drawPanel);
</script>
</body>
</html>
